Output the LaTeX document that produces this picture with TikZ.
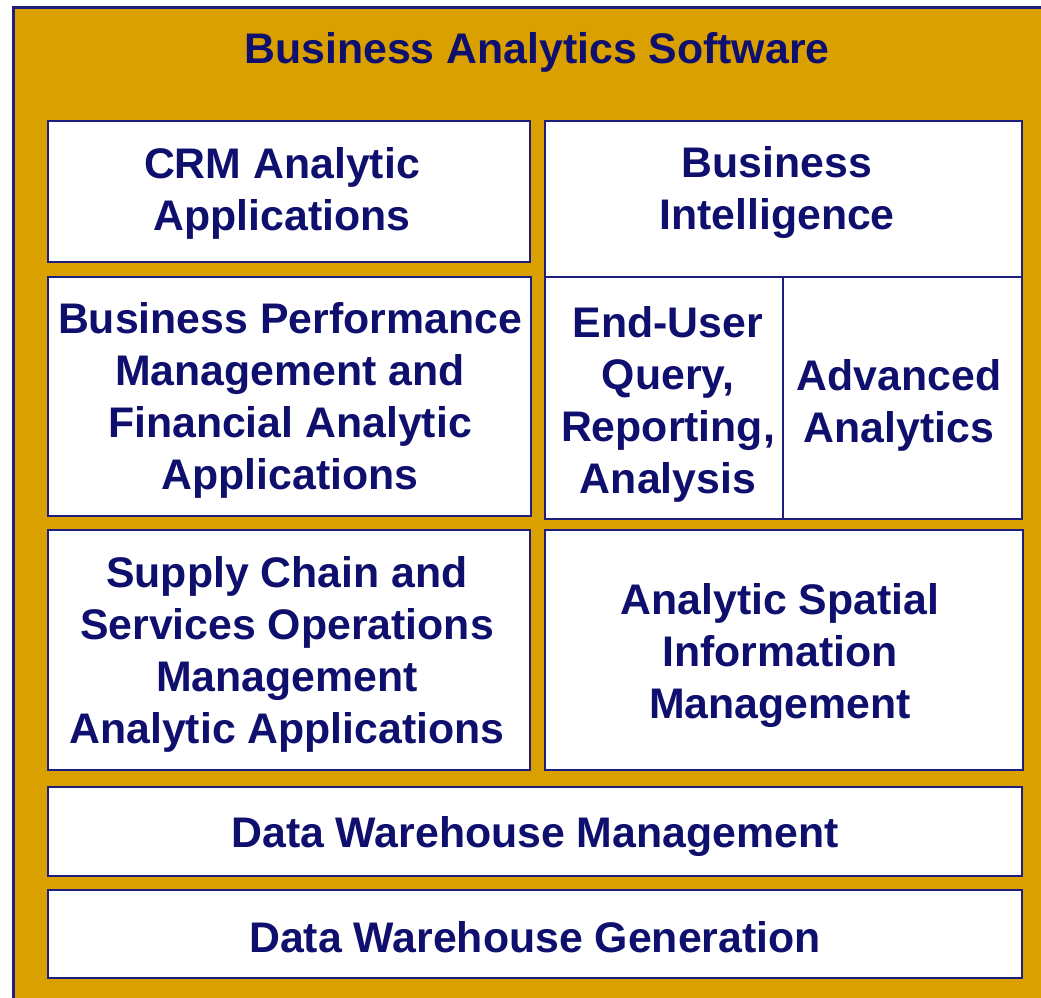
\documentclass[tikz,border=0pt]{standalone}
\usepackage{fontspec}
\setmainfont{Liberation Sans}
\definecolor{gold}{RGB}{218,160,0}
\definecolor{navy}{RGB}{30,30,125}
\definecolor{txt}{RGB}{15,15,110}
\begin{document}
\begin{tikzpicture}[x=1pt,y=-1pt,
  panel/.style={draw=navy,line width=2pt,fill=white},
  lbl/.style={text=txt,font=\fontsize{42.8}{52}\selectfont\bfseries,align=center,inner sep=0pt}]
\useasboundingbox (0,0) rectangle (1041,997);
\clip (0,0) rectangle (1041,997);
% outer frame
\draw[fill=gold,draw=navy,line width=3pt] (13,7) rectangle (1070,1030);
% panels
\draw[panel] (48,121) rectangle (530,262);
\draw[panel] (545,121) rectangle (1022,519);
\draw[navy,line width=2pt] (545,277) -- (1022,277);
\draw[navy,line width=2pt] (783,277) -- (783,519);
\draw[navy,line width=2pt] (545,519) -- (801,519);
\draw[panel] (48,277) rectangle (531,516);
\draw[panel] (48,530) rectangle (530,770);
\draw[panel] (545,530) rectangle (1023,770);
\draw[panel] (48,787) rectangle (1022,876);
\draw[panel] (48,890) rectangle (1022,978);
% labels
\node[lbl] (title) at (537,52) {Business Analytics Software};
\node[lbl] (crm) at (282,193) {CRM Analytic\\Applications};
\node[lbl] (bi) at (777,193) {Business\\Intelligence};
\node[lbl] (eu) at (668,404) {End-User\\Query,\\Reporting,\\Analysis};
\node[lbl] (aa) at (899,405) {Advanced\\Analytics};
\node[lbl] (bpm) at (290,400) {Business Performance\\Management and\\Financial Analytic\\Applications};
\node[lbl] (sc) at (287,654) {Supply Chain and\\Services Operations\\Management\\Analytic Applications};
\node[lbl] (sp) at (780,656) {Analytic Spatial\\Information\\Management};
\node[lbl] (dwm) at (535,837) {Data Warehouse Management};
\node[lbl] (dwg) at (535,937) {Data Warehouse Generation};
\end{tikzpicture}
\end{document}
